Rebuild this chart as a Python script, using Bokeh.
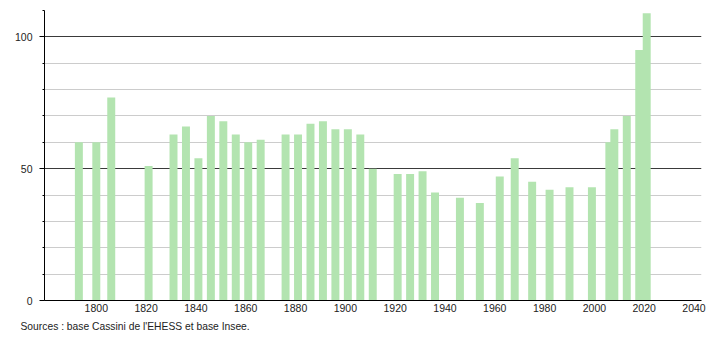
from bokeh.plotting import figure
from bokeh.models import Range1d, FixedTicker, Grid, Title
from bokeh.embed import file_html
from bokeh.resources import INLINE

years = [1793, 1800, 1806, 1821, 1831, 1836, 1841, 1846, 1851, 1856, 1861, 1866,
         1876, 1881, 1886, 1891, 1896, 1901, 1906, 1911, 1921, 1926, 1931, 1936,
         1946, 1954, 1962, 1968, 1975, 1982, 1990, 1999, 2006, 2008, 2013, 2018, 2021]
population = [60, 60, 77, 51, 63, 66, 54, 70, 68, 63, 60, 61,
              63, 63, 67, 68, 65, 65, 63, 50, 48, 48, 49, 41,
              39, 37, 47, 54, 45, 42, 43, 43, 60, 65, 70, 95, 109]
x_ticks = [1800, 1820, 1840, 1860, 1880, 1900, 1920, 1940, 1960, 1980, 2000, 2020, 2040]
y_major = [0, 50, 100]
y_minor = [0, 10, 20, 30, 40, 50, 60, 70, 80, 90, 100, 110]
source_text = "Sources : base Cassini de l'EHESS et base Insee."

FONT = "Liberation Sans"

p = figure(width=710, height=340, output_backend="svg", toolbar_location=None,
           x_range=Range1d(1779.2, 2043), y_range=Range1d(0, 110),
           min_border_left=44, min_border_right=9, min_border_top=10, min_border_bottom=40)
p.outline_line_color = None
p.background_fill_color = "white"
p.border_fill_color = "white"

p.vbar(x=years, top=population, width=3.2, bottom=0,
       fill_color="#b3e4b0", line_color=None)

# grids
p.xgrid.visible = False
p.ygrid.ticker = FixedTicker(ticks=[v for v in y_minor if v not in y_major])
p.ygrid.grid_line_color = "#cccccc"
p.ygrid.grid_line_width = 1
dark = Grid(dimension=1, ticker=FixedTicker(ticks=[50, 100]),
            grid_line_color="#3a3a3a", grid_line_width=1)
p.add_layout(dark)

# x axis
xa = p.xaxis[0]
xa.ticker = FixedTicker(ticks=x_ticks)
xa.major_tick_out = 0
xa.major_tick_in = 0
xa.minor_tick_out = 0
xa.minor_tick_in = 0
xa.axis_line_color = "black"
xa.major_label_standoff = 3
xa.major_label_text_font = FONT
xa.major_label_text_font_size = "10.5px"
xa.major_label_text_color = "#222222"

# y axis
ya = p.yaxis[0]
ya.ticker = FixedTicker(ticks=y_major, minor_ticks=y_minor)
ya.major_tick_out = 5
ya.major_tick_in = 0
ya.minor_tick_out = 2
ya.minor_tick_in = 0
ya.axis_line_color = "black"
ya.major_tick_line_color = "black"
ya.minor_tick_line_color = "black"
ya.major_label_standoff = 7
ya.major_label_text_font = FONT
ya.major_label_text_font_size = "10.5px"
ya.major_label_text_color = "#222222"

t = Title(text=source_text, align="left", text_font=FONT, text_font_size="10.3px",
          text_font_style="normal", text_color="#222222", offset=-24, standoff=8)
p.add_layout(t, "below")

open("out.html", "w").write(file_html(p, INLINE))
